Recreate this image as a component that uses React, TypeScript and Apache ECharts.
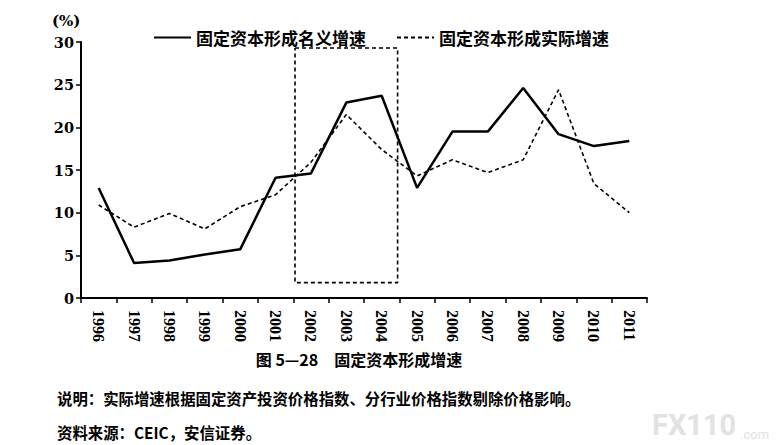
import React, { useEffect, useRef } from "react";
import * as echarts from "echarts";

const years = ["1996","1997","1998","1999","2000","2001","2002","2003","2004","2005","2006","2007","2008","2009","2010","2011"];
const nominal = [12.9, 4.1, 4.4, 5.1, 5.7, 14.1, 14.6, 22.9, 23.7, 12.9, 19.5, 19.5, 24.6, 19.2, 17.8, 18.4];
const real = [10.9, 8.3, 9.9, 8.1, 10.7, 12.1, 15.9, 21.5, 17.4, 14.3, 16.2, 14.7, 16.2, 24.4, 13.4, 10.0];
const yTicks = { min: 0, max: 30, interval: 5 };
// highlight box, in category-slot units (0..16) and values
const boxX = [6.05, 8.95];
const boxY = [1.8, 29.3];

const nominalName = "固定资本形成名义增速";
const realName = "固定资本形成实际增速";
const caption = "图 5—28　固定资本形成增速";
const note = "说明：实际增速根据固定资产投资价格指数、分行业价格指数剔除价格影响。";
const source = "资料来源：CEIC，安信证券。";

export default function App() {
  const ref = useRef<HTMLDivElement>(null);
  useEffect(() => {
    const chart = echarts.init(ref.current!, null, { renderer: "svg" });
    const cjk = "'Noto Sans CJK SC', sans-serif";
    chart.setOption({
      animation: false,
      backgroundColor: "#ffffff",
      grid: { left: 81, right: 132, top: 42, bottom: 147, containLabel: false },
      legend: {
        data: [nominalName, realName],
        left: 148,
        top: 24,
        itemWidth: 37,
        itemHeight: 14,
        itemGap: 30,
        itemStyle: { opacity: 0 },
        textStyle: { fontFamily: cjk, fontSize: 17, fontWeight: "bold", color: "#000" },
      },
      xAxis: [
        {
          type: "category",
          data: years,
          boundaryGap: true,
          axisLine: { lineStyle: { color: "#000", width: 2 } },
          axisTick: { show: true, length: 5, lineStyle: { color: "#000", width: 1.5 }, alignWithLabel: false },
          axisLabel: {
            rotate: -90,
            margin: 12,
            color: "#000",
            fontFamily: "'Liberation Serif', serif",
            fontSize: 16,
            fontWeight: "bold",
          },
          splitLine: { show: false },
        },
        {
          type: "value",
          min: 0,
          max: 16,
          show: false,
        },
      ],
      yAxis: {
        type: "value",
        min: yTicks.min,
        max: yTicks.max,
        interval: yTicks.interval,
        axisLine: { show: true, lineStyle: { color: "#000", width: 2 } },
        axisTick: { show: true, length: 5, lineStyle: { color: "#000", width: 1.5 } },
        axisLabel: {
          margin: 7,
          color: "#000",
          fontFamily: "'DejaVu Serif', serif",
          fontWeight: "bold",
          fontSize: 14.5,
        },
        splitLine: { show: false },
      },
      series: [
        {
          name: nominalName,
          type: "line",
          data: nominal,
          symbol: "none",
          lineStyle: { color: "#000", width: 2.5 },
          itemStyle: { color: "#000" },
        },
        {
          name: realName,
          type: "line",
          data: real,
          symbol: "none",
          lineStyle: { color: "#000", width: 1.6, type: [4, 3] },
          itemStyle: { color: "#000" },
        },
        {
          name: "box",
          type: "line",
          xAxisIndex: 1,
          silent: true,
          symbol: "none",
          data: [
            [boxX[0], boxY[1]],
            [boxX[1], boxY[1]],
            [boxX[1], boxY[0]],
            [boxX[0], boxY[0]],
            [boxX[0], boxY[1]],
          ],
          lineStyle: { color: "#000", width: 1.6, type: [4, 3] },
        },
      ],
      graphic: [
        {
          type: "text",
          left: 52,
          top: 13,
          style: { text: "(%)", font: "bold 15px 'DejaVu Serif', serif", fill: "#000" },
        },
        {
          type: "text",
          x: 359,
          y: 359,
          style: {
            text: caption,
            font: `bold 16px ${cjk}`,
            fill: "#000",
            align: "center",
            verticalAlign: "middle",
          },
        },
        {
          type: "text",
          x: 57,
          y: 398,
          style: { text: note, font: `bold 15.4px ${cjk}`, fill: "#000", verticalAlign: "middle" },
        },
        {
          type: "text",
          x: 57,
          y: 432,
          style: { text: source, font: `bold 15.4px ${cjk}`, fill: "#000", verticalAlign: "middle" },
        },
        {
          type: "text",
          x: 652,
          y: 425,
          style: {
            text: "FX110",
            font: "bold 29px 'Roboto', sans-serif",
            fill: "#e2e2e2",
            verticalAlign: "middle",
          },
        },
        {
          type: "text",
          x: 740,
          y: 434,
          style: {
            text: ".com",
            font: "13px 'Roboto', sans-serif",
            fill: "#e2e2e2",
            verticalAlign: "middle",
          },
        },
      ],
    });
    return () => chart.dispose();
  }, []);
  return (
    <div
      ref={ref}
      style={{ position: "fixed", left: 0, top: 0, width: 779, height: 445, background: "#fff" }}
    />
  );
}
